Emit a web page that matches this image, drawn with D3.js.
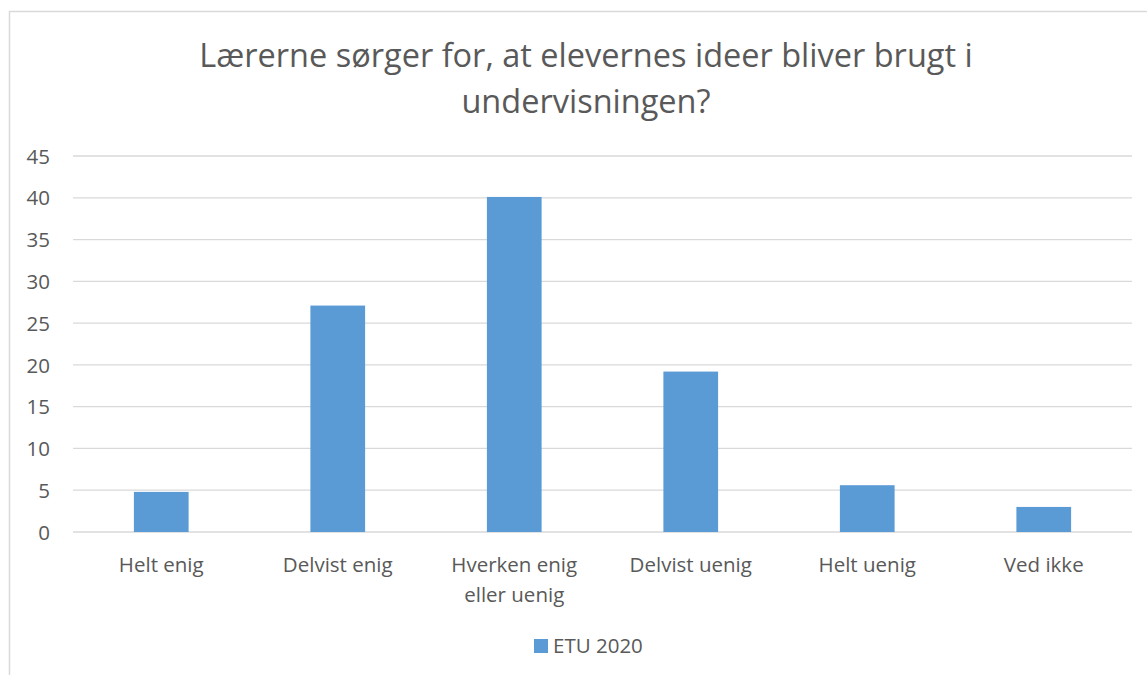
<!DOCTYPE html>
<html>
<head>
<meta charset="utf-8">
<script src="https://cdn.jsdelivr.net/npm/d3@7"></script>
<style>
  body { margin: 0; background: #fff; }
  svg text { font-family: "Open Sans", sans-serif; fill: #595959; }
</style>
</head>
<body>
<div id="chart"></div>
<script>
const categories = ['Helt enig', 'Delvist enig', 'Hverken enig eller uenig', 'Delvist uenig', 'Helt uenig', 'Ved ikke'];
const categoryLines = [['Helt enig'], ['Delvist enig'], ['Hverken enig', 'eller uenig'], ['Delvist uenig'], ['Helt uenig'], ['Ved ikke']];
const values = [4.8, 27.1, 40.1, 19.2, 5.6, 3.0];
const yTicks = [0, 5, 10, 15, 20, 25, 30, 35, 40, 45];
const seriesName = 'ETU 2020';
const titleLines = ['Lærerne sørger for, at elevernes ideer bliver brugt i', 'undervisningen?'];

const width = 1147, height = 675;
const margin = { left: 73, right: 15, top: 156, bottom: 143 };
const barColor = '#5b9bd5';
const labelSize = 20.5;

const svg = d3.select('#chart').append('svg')
  .attr('width', width)
  .attr('height', height);

// chart frame (right and bottom edges fall outside the picture)
svg.append('rect')
  .attr('x', 9.5).attr('y', 11.5)
  .attr('width', width + 20).attr('height', height + 20)
  .attr('fill', 'none')
  .attr('stroke', '#d9d9d9')
  .attr('stroke-width', 1.5);

const x = d3.scaleBand()
  .domain(categories)
  .range([margin.left, width - margin.right])
  .paddingInner(0.69)
  .paddingOuter(0.345);

const y = d3.scaleLinear()
  .domain([0, 45])
  .range([height - margin.bottom, margin.top]);

// gridlines
svg.append('g')
  .selectAll('line')
  .data(yTicks).enter()
  .append('line')
    .attr('x1', margin.left)
    .attr('x2', width - margin.right)
    .attr('y1', d => y(d))
    .attr('y2', d => y(d))
    .attr('stroke', '#d9d9d9')
    .attr('stroke-width', 1.3);

// y axis labels
const yAxis = d3.axisLeft(y).tickValues(yTicks).tickSize(0).tickPadding(0);
const yg = svg.append('g')
  .attr('transform', `translate(50, 0)`)
  .call(yAxis);
yg.select('.domain').remove();
yg.selectAll('text')
  .attr('font-size', labelSize)
  .attr('dy', '0.35em')
  .style('font-family', '"Open Sans", sans-serif')
  .attr('fill', '#595959');

// bars
svg.append('g')
  .selectAll('rect')
  .data(values).enter()
  .append('rect')
    .attr('x', (d, i) => x(categories[i]))
    .attr('y', d => y(d))
    .attr('width', x.bandwidth())
    .attr('height', d => y(0) - y(d))
    .attr('fill', barColor);

// x axis labels
const xl = svg.append('g')
  .selectAll('text')
  .data(categories).enter()
  .append('text')
    .attr('x', d => x(d) + x.bandwidth() / 2)
    .attr('y', y(0) + 40)
    .attr('text-anchor', 'middle')
    .attr('font-size', labelSize);
xl.each(function(d, i) {
  d3.select(this).selectAll('tspan')
    .data(categoryLines[i]).enter()
    .append('tspan')
      .attr('x', x(d) + x.bandwidth() / 2)
      .attr('dy', (t, j) => j === 0 ? 0 : 30)
      .text(t => t);
});

// title
svg.append('text')
  .attr('x', 586)
  .attr('y', 67)
  .attr('text-anchor', 'middle')
  .attr('font-size', 32.5)
  .selectAll('tspan')
  .data(titleLines).enter()
  .append('tspan')
    .attr('x', 586)
    .attr('dy', (t, j) => j === 0 ? 0 : 46)
    .text(t => t);

// legend
const legend = svg.append('g').attr('transform', 'translate(534, 639)');
legend.append('rect')
  .attr('width', 14).attr('height', 14)
  .attr('fill', barColor);
legend.append('text')
  .attr('x', 19).attr('y', 13.5)
  .attr('font-size', labelSize)
  .text(seriesName);
</script>
</body>
</html>
